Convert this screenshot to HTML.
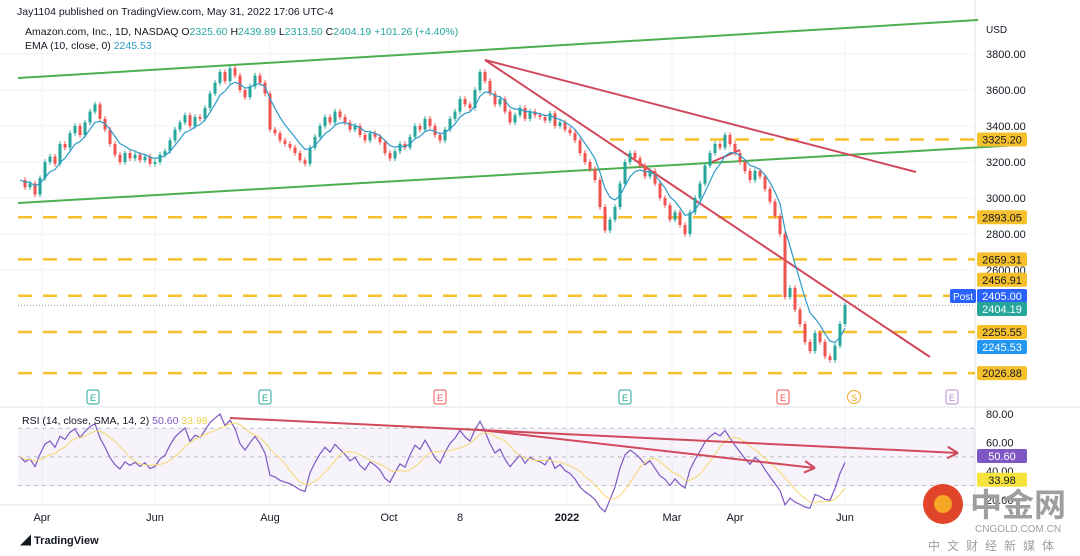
<!DOCTYPE html>
<html><head><meta charset="utf-8">
<style>
body{margin:0;background:#fff;font-family:"Liberation Sans","Noto Sans CJK SC",sans-serif;}
#wrap{position:relative;width:1080px;height:556px;overflow:hidden;background:#fff;}
svg text{font-family:"Liberation Sans","Noto Sans CJK SC",sans-serif;}
</style></head>
<body>
<div id="wrap">
<svg id="chart" width="1080" height="556"></svg>
</div>
<script>
const closes=[3100,3060,3080,3020,3110,3200,3230,3190,3300,3280,3360,3400,3350,3420,3480,3520,3440,3380,3300,3240,3200,3250,3220,3240,3210,3230,3190,3200,3240,3260,3320,3380,3420,3460,3400,3450,3440,3500,3580,3640,3700,3650,3720,3680,3600,3560,3620,3680,3640,3580,3380,3360,3320,3300,3280,3250,3210,3190,3280,3340,3400,3450,3420,3480,3450,3420,3380,3400,3350,3320,3360,3340,3310,3250,3220,3260,3300,3280,3340,3400,3380,3440,3400,3350,3320,3380,3440,3480,3550,3520,3500,3600,3700,3650,3580,3520,3550,3480,3420,3460,3500,3440,3480,3460,3450,3430,3470,3400,3420,3380,3360,3320,3250,3200,3160,3100,2950,2820,2880,2950,3080,3200,3250,3220,3180,3120,3150,3080,3000,2960,2880,2920,2850,2800,2920,3000,3080,3180,3250,3300,3280,3350,3300,3250,3200,3150,3100,3150,3120,3050,2980,2900,2800,2450,2500,2380,2300,2200,2150,2250,2200,2120,2100,2180,2300,2404.19];
const levels=[3325.20,2893.05,2659.31,2456.91,2255.55,2026.88];
const priceTicks=[3800,3600,3400,3200,3000,2800,2600];
const rsiTicks=[80,60,40,20];
const monthLabels=["Apr","Jun","Aug","Oct","8","2022","Mar","Apr","Jun"];
const monthX=[42,155,270,389,460,567,672,735,845];

const NS="http://www.w3.org/2000/svg";
const svg=document.getElementById('chart');
function el(t,a,p){const e=document.createElementNS(NS,t);for(const k in a)e.setAttribute(k,a[k]);(p||svg).appendChild(e);return e;}
const py=p=>54+(3800-p)*0.18;
const cx=i=>20+i*5;
const ry=v=>414+(80-v)*1.43;

monthX.forEach(x=>{const g=el('line',{x1:x,y1:40,x2:x,y2:505,stroke:'#f0f3fa','stroke-width':1});});
priceTicks.forEach(p=>{const g=el('line',{x1:0,y1:py(p),x2:975,y2:py(p),stroke:'#f0f3fa'});});
el('line',{x1:975,y1:0,x2:975,y2:505,stroke:'#e0e3eb'});
el('line',{x1:0,y1:407,x2:1080,y2:407,stroke:'#e0e3eb'});
el('line',{x1:0,y1:505,x2:975,y2:505,stroke:'#e0e3eb'});

const band=el('rect',{x:18,y:ry(70),width:957,height:ry(30)-ry(70),fill:'#7e57c2','fill-opacity':0.07});

[70,50,30].forEach(v=>{el('line',{x1:18,y1:ry(v),x2:975,y2:ry(v),stroke:'#9598a1','stroke-dasharray':'4 4','stroke-width':1,'stroke-opacity':0.6});});

levels.forEach((l,i)=>{const x0=i===0?610:18;const ln=el('line',{x1:x0,y1:py(l),x2:975,y2:py(l),stroke:'#f5c02c','stroke-width':2.5,'stroke-dasharray':'14 11'});
});
el('line',{x1:18,y1:py(2404.19),x2:975,y2:py(2404.19),stroke:'#9598a1','stroke-dasharray':'1 2','stroke-width':1});

function tl(x1,y1,x2,y2,c,name,w){const l=el('line',{x1,y1,x2,y2,stroke:c,'stroke-width':w||2});}
tl(18,78,978,20,'#4caf50','channel-top-line');
tl(18,203,1020,145,'#4caf50','channel-bottom-line');
tl(485,60,916,172,'#d1495b','resistance-line-upper');
tl(485,60,930,357,'#d1495b','resistance-line-lower');
tl(712,162,740,150,'#d1495b','small-trend-line');

closes.forEach((c,i)=>{if(i===0)return;const o=closes[i-1];const up=c>=o;const col=up?'#26a69a':'#ef5350';
const hi=Math.max(o,c)+15,lo=Math.min(o,c)-15;
const w=el('line',{x1:cx(i),y1:py(hi),x2:cx(i),y2:py(lo),stroke:col,'stroke-width':1});

const r=el('rect',{x:cx(i)-1.5,y:py(Math.max(o,c)),width:3,height:Math.max(1,Math.abs(py(o)-py(c))),fill:col});
});

let e=closes[0],pts=[];closes.forEach((c,i)=>{e=i?c*0.28+e*0.72:c;pts.push(cx(i)+','+py(e));});
const ema=el('polyline',{points:pts.join(' '),fill:'none',stroke:'#2d9bc9','stroke-width':1.2});


let ag=30,al=30,rsi=[];closes.forEach((c,i)=>{if(!i){rsi.push(50);return;}const d=c-closes[i-1];const g=Math.max(d,0),l=Math.max(-d,0);ag=(ag*9+g)/10;al=(al*9+l)/10;rsi.push(100-100/(1+ag/al));});
const rp=rsi.map((v,i)=>cx(i)+','+ry(v)).join(' ');
const rl=el('polyline',{points:rp,fill:'none',stroke:'#7e57c2','stroke-width':1.2});

const sma=rsi.map((v,i)=>{const s=rsi.slice(Math.max(0,i-6),i+1);return cx(i)+','+ry(s.reduce((a,b)=>a+b,0)/s.length);}).join(' ');
const sl=el('polyline',{points:sma,fill:'none',stroke:'#f5d76e','stroke-width':1});


function arrow(x1,y1,x2,y2,name){tl(x1,y1,x2,y2,'#d1495b',name);const a=Math.atan2(y2-y1,x2-x1);
[0.5,-0.5].forEach(d=>el('line',{x1:x2,y1:y2,x2:x2-12*Math.cos(a+d),y2:y2-12*Math.sin(a+d),stroke:'#d1495b','stroke-width':2}));}
arrow(230,418,958,453,'rsi-arrow-long');
arrow(480,430,815,468,'rsi-arrow-short');

[[93,'E','#26a69a'],[265,'E','#26a69a'],[440,'E','#ef5350'],[625,'E','#26a69a'],[783,'E','#ef5350'],[952,'E','#b388d9']].forEach(([x,t,c])=>{
const r=el('rect',{x:x-6,y:390,width:12,height:14,rx:2,fill:'#fff',stroke:c});
el('text',{x:x,y:401,'font-size':9,fill:c,'text-anchor':'middle'}).textContent=t;});
const sc=el('circle',{cx:854,cy:397,r:6.5,fill:'#fff',stroke:'#f5a623'});
el('text',{x:854,y:401,'font-size':9,fill:'#f5a623','text-anchor':'middle'}).textContent='S';

el('text',{x:986,y:33,'font-size':10,fill:'#131722'}).textContent='USD';
priceTicks.forEach(p=>{const t=el('text',{x:986,y:py(p)+4,'font-size':11,fill:'#131722'});t.textContent=p.toFixed(2);});
rsiTicks.forEach(v=>{const t=el('text',{x:986,y:ry(v)+4,'font-size':11,fill:'#131722'});t.textContent=v.toFixed(2);});
function tag(y,txt,bg,fg,name){const r=el('rect',{x:977,y:y-7,width:50,height:14,rx:2,fill:bg});
el('text',{x:1002,y:y+4,'font-size':11,fill:fg,'text-anchor':'middle'}).textContent=txt;}
const tagOffset=[0,0,0,-16,0,0];
levels.forEach((l,i)=>tag(py(l)+tagOffset[i],l.toFixed(2),'#f5c02c','#131722','level-price-tag'));
tag(296,'2405.00','#2962ff','#fff','post-price-tag');
tag(309,'2404.19','#26a69a','#fff','last-price-tag');
tag(347,'2245.53','#2196f3','#fff','ema-price-tag');
tag(ry(50.6),'50.60','#7e57c2','#fff','rsi-value-tag');
tag(ry(33.98),'33.98','#f5e23c','#131722','rsi-sma-tag');
const pt=el('rect',{x:950,y:289,width:26,height:14,rx:2,fill:'#2962ff'});
el('text',{x:963,y:300,'font-size':10,fill:'#fff','text-anchor':'middle'}).textContent='Post';

monthLabels.forEach((m,i)=>{const t=el('text',{x:monthX[i],y:521,'font-size':11,fill:'#131722','text-anchor':'middle','font-weight':m==='2022'?'bold':'normal'});t.textContent=m;});

el('text',{x:17,y:15,'font-size':10.5,fill:'#131722'}).textContent='Jay1104 published on TradingView.com, May 31, 2022 17:06 UTC-4';
const h=el('text',{x:25,y:35,'font-size':10.5,fill:'#131722'});
h.innerHTML='Amazon.com, Inc., 1D, NASDAQ  O<tspan fill="#26a69a">2325.60</tspan>  H<tspan fill="#26a69a">2439.89</tspan>  L<tspan fill="#26a69a">2313.50</tspan>  C<tspan fill="#26a69a">2404.19</tspan>  <tspan fill="#26a69a">+101.26 (+4.40%)</tspan>';
const h2=el('text',{x:25,y:49,'font-size':10.5,fill:'#131722'});
h2.innerHTML='EMA (10, close, 0)  <tspan fill="#2d9bc9">2245.53</tspan>';
const h3=el('text',{x:22,y:424,'font-size':10.5,fill:'#131722'});
h3.innerHTML='RSI (14, close, SMA, 14, 2)  <tspan fill="#7e57c2">50.60</tspan>  <tspan fill="#e8d44d">33.98</tspan>';

const lg=el('text',{x:20,y:544,'font-size':11,fill:'#131722','font-weight':'bold'});lg.textContent='◢ TradingView';

const wm=el('g',{});
el('circle',{cx:943,cy:504,r:20,fill:'#e0452a'},wm);
el('circle',{cx:943,cy:504,r:9,fill:'#f6a623'},wm);
el('text',{x:970,y:516,'font-size':32,fill:'#9e9e9e','font-weight':'bold'},wm).textContent='中金网';
el('text',{x:975,y:532,'font-size':10,fill:'#9e9e9e'},wm).textContent='CNGOLD.COM.CN';
el('text',{x:928,y:550,'font-size':12,fill:'#9e9e9e','letter-spacing':'7'},wm).textContent='中文财经新媒体';
</script>
</body></html>
